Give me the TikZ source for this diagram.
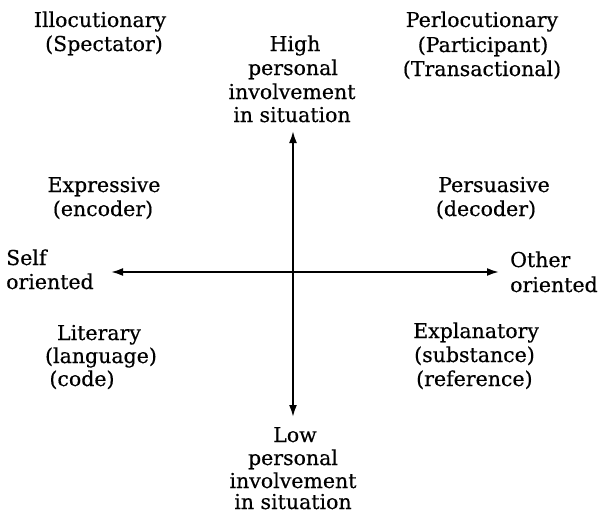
\documentclass[tikz,border=0pt]{standalone}
\usepackage{fontspec}
\newfontfamily\lblfont{DejaVu Serif}[FakeBold=0.5]
\usetikzlibrary{arrows.meta}
\begin{document}
\begin{tikzpicture}[x=1pt,y=-1pt,
  lbl/.style={inner sep=0pt,anchor=base,font=\lblfont\fontsize{20.5}{24}\selectfont},
  lbll/.style={lbl,anchor=base west},
  axis/.style={line width=2pt,{Latex[length=12pt,width=8pt]}-{Latex[length=12pt,width=8pt]}}]
\useasboundingbox (0,0) rectangle (598,514);
% axes
\coordinate (L) at (111,272);
\coordinate (R) at (499,272);
\coordinate (T) at (293,131);
\coordinate (B) at (293,417);
\draw[axis] (L) -- (R);
\draw[axis] (T) -- (B);
% top left
\node[lbl] (ill1) at (100,27) {Illocutionary};
\node[lbl] (ill2) at (104,51) {(Spectator)};
% top centre
\node[lbl] (hi1) at (295,51) {High};
\node[lbl] (hi2) at (293,75) {personal};
\node[lbl] (hi3) at (292,99) {involvement};
\node[lbl] (hi4) at (292,122) {in situation};
% top right
\node[lbl] (per1) at (482,27) {Perlocutionary};
\node[lbl] (per2) at (483,52) {(Participant)};
\node[lbl] (per3) at (482,76) {(Transactional)};
% expressive
\node[lbl] (exp1) at (104,192) {Expressive};
\node[lbl] (exp2) at (103,216) {(encoder)};
% persuasive
\node[lbl] (pers1) at (494,192) {Persuasive};
\node[lbl] (pers2) at (486,216) {(decoder)};
% self / other
\node[lbll] (self1) at (6,265) {Self};
\node[lbll] (self2) at (6,289) {oriented};
\node[lbll] (oth1) at (510,267) {Other};
\node[lbll] (oth2) at (510,292) {oriented};
% literary
\node[lbl] (lit1) at (99,340) {Literary};
\node[lbl] (lit2) at (101,363) {(language)};
\node[lbl] (lit3) at (82,386) {(code)};
% explanatory
\node[lbll] (ex1) at (413,338) {Explanatory};
\node[lbll] (ex2) at (414,362) {(substance)};
\node[lbll] (ex3) at (416,386) {(reference)};
% bottom centre
\node[lbl] (lo1) at (295,442) {Low};
\node[lbl] (lo2) at (293,465) {personal};
\node[lbl] (lo3) at (293,488) {involvement};
\node[lbl] (lo4) at (293,509) {in situation};
\end{tikzpicture}
\end{document}
